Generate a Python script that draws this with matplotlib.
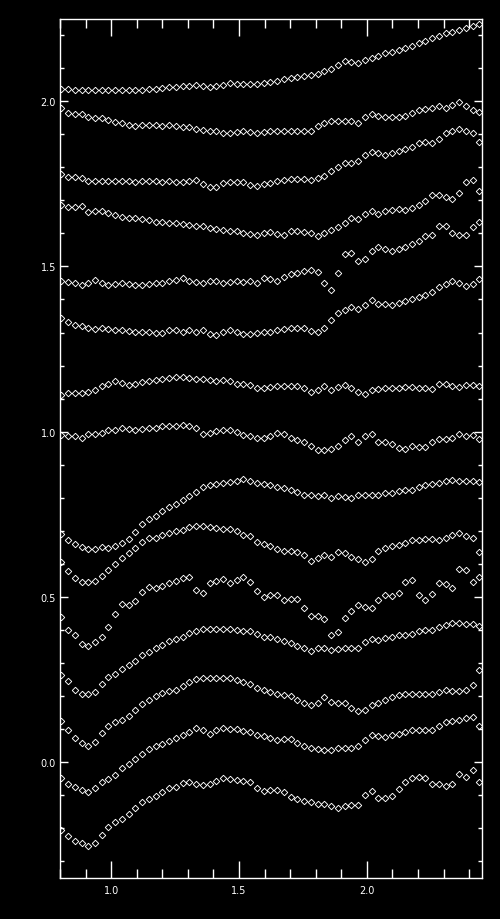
import matplotlib
matplotlib.use("Agg")
import matplotlib.pyplot as plt
import numpy as np
from matplotlib.ticker import MultipleLocator

# common wavelength grid (63 samples, evenly spaced)
x = np.linspace(0.805, 2.44, 63)

# offset spectra, top to bottom
s01 = [2.038, 2.036, 2.035, 2.034, 2.034, 2.034, 2.035, 2.035, 2.034, 2.034, 2.034, 2.034, 2.034, 2.036, 2.038,
       2.040, 2.042, 2.044, 2.045, 2.047, 2.048, 2.046, 2.044, 2.047, 2.050, 2.054, 2.052, 2.052,
       2.053, 2.052, 2.055, 2.058, 2.062, 2.066, 2.070, 2.074, 2.076, 2.078, 2.081, 2.090,
       2.098, 2.110, 2.120, 2.118, 2.115, 2.125, 2.132, 2.138, 2.145, 2.150,
       2.155, 2.160, 2.168, 2.175, 2.182, 2.190, 2.198, 2.205, 2.210, 2.215, 2.220, 2.226, 2.232]
s02 = [1.978, 1.964, 1.961, 1.962, 1.952, 1.950, 1.948, 1.943, 1.938, 1.934, 1.929, 1.925, 1.927, 1.929, 1.927,
       1.925, 1.929, 1.925, 1.923, 1.923, 1.917, 1.913, 1.911, 1.909, 1.905, 1.903, 1.907, 1.909,
       1.907, 1.903, 1.907, 1.911, 1.909, 1.911, 1.911, 1.911, 1.911, 1.909, 1.925, 1.933,
       1.939, 1.941, 1.939, 1.941, 1.933, 1.953, 1.961, 1.955, 1.953, 1.953,
       1.951, 1.955, 1.964, 1.974, 1.976, 1.978, 1.984, 1.980, 1.988, 1.996, 1.984, 1.974, 1.966]
s03 = [1.780, 1.772, 1.770, 1.768, 1.758, 1.758, 1.758, 1.758, 1.758, 1.758, 1.757, 1.756, 1.757, 1.757, 1.757,
       1.756, 1.758, 1.756, 1.754, 1.758, 1.760, 1.749, 1.739, 1.741, 1.751, 1.755, 1.754, 1.754,
       1.747, 1.743, 1.749, 1.753, 1.757, 1.761, 1.763, 1.765, 1.763, 1.761, 1.767, 1.775,
       1.788, 1.802, 1.812, 1.814, 1.818, 1.838, 1.846, 1.842, 1.838, 1.842,
       1.850, 1.854, 1.861, 1.873, 1.877, 1.873, 1.885, 1.903, 1.911, 1.915, 1.911, 1.905, 1.877]
s04 = [1.687, 1.681, 1.681, 1.683, 1.665, 1.667, 1.667, 1.661, 1.655, 1.651, 1.647, 1.647, 1.643, 1.639, 1.635,
       1.633, 1.631, 1.631, 1.629, 1.625, 1.623, 1.621, 1.617, 1.612, 1.610, 1.608, 1.606, 1.600,
       1.598, 1.594, 1.602, 1.604, 1.598, 1.596, 1.608, 1.608, 1.604, 1.600, 1.592, 1.602,
       1.610, 1.620, 1.630, 1.646, 1.644, 1.658, 1.667, 1.660, 1.667, 1.671,
       1.673, 1.671, 1.677, 1.685, 1.697, 1.715, 1.717, 1.711, 1.705, 1.721, 1.755, 1.762, 1.727]
s05 = [1.455, 1.453, 1.449, 1.444, 1.449, 1.459, 1.449, 1.443, 1.447, 1.449, 1.447, 1.443, 1.443, 1.447, 1.449,
       1.451, 1.455, 1.459, 1.465, 1.455, 1.453, 1.451, 1.455, 1.455, 1.451, 1.453, 1.455, 1.453,
       1.455, 1.451, 1.465, 1.463, 1.457, 1.467, 1.477, 1.481, 1.485, 1.489, 1.483, 1.449,
       1.428, 1.481, 1.537, 1.541, 1.515, 1.521, 1.547, 1.558, 1.554, 1.547,
       1.554, 1.560, 1.568, 1.578, 1.592, 1.594, 1.622, 1.622, 1.600, 1.594, 1.594, 1.620, 1.635]
s06 = [1.345, 1.333, 1.323, 1.319, 1.313, 1.311, 1.315, 1.311, 1.309, 1.309, 1.305, 1.303, 1.303, 1.303, 1.299,
       1.299, 1.309, 1.307, 1.303, 1.307, 1.303, 1.307, 1.295, 1.293, 1.303, 1.307, 1.303, 1.295,
       1.297, 1.299, 1.301, 1.301, 1.309, 1.311, 1.313, 1.315, 1.313, 1.305, 1.303, 1.315,
       1.339, 1.359, 1.367, 1.376, 1.370, 1.384, 1.398, 1.386, 1.386, 1.384,
       1.388, 1.396, 1.400, 1.406, 1.414, 1.424, 1.438, 1.448, 1.455, 1.450, 1.440, 1.448, 1.462]
s07 = [1.111, 1.117, 1.117, 1.117, 1.121, 1.127, 1.137, 1.145, 1.152, 1.147, 1.141, 1.143, 1.150, 1.154, 1.156,
       1.160, 1.162, 1.164, 1.166, 1.162, 1.158, 1.160, 1.156, 1.154, 1.156, 1.152, 1.145, 1.143,
       1.141, 1.131, 1.131, 1.135, 1.137, 1.137, 1.137, 1.137, 1.133, 1.121, 1.125, 1.137,
       1.127, 1.135, 1.141, 1.131, 1.121, 1.115, 1.125, 1.129, 1.131, 1.133,
       1.133, 1.135, 1.135, 1.133, 1.131, 1.129, 1.143, 1.145, 1.137, 1.135, 1.141, 1.141, 1.137]
s08 = [0.990, 0.986, 0.988, 0.982, 0.992, 0.992, 0.996, 1.004, 1.004, 1.010, 1.008, 1.006, 1.008, 1.010, 1.012,
       1.016, 1.016, 1.018, 1.020, 1.016, 1.012, 0.994, 0.996, 1.002, 1.006, 1.004, 0.998, 0.990,
       0.988, 0.982, 0.982, 0.988, 0.996, 0.992, 0.982, 0.974, 0.970, 0.958, 0.945, 0.945,
       0.949, 0.956, 0.974, 0.986, 0.970, 0.986, 0.994, 0.970, 0.968, 0.962,
       0.951, 0.949, 0.958, 0.954, 0.954, 0.970, 0.978, 0.978, 0.980, 0.992, 0.986, 0.990, 0.978]
s09 = [0.691, 0.673, 0.660, 0.652, 0.646, 0.646, 0.650, 0.648, 0.654, 0.662, 0.675, 0.697, 0.721, 0.735, 0.745,
       0.760, 0.772, 0.780, 0.794, 0.806, 0.818, 0.832, 0.838, 0.842, 0.846, 0.848, 0.852, 0.856,
       0.852, 0.846, 0.842, 0.840, 0.834, 0.830, 0.824, 0.818, 0.808, 0.808, 0.806, 0.808,
       0.798, 0.804, 0.802, 0.800, 0.808, 0.808, 0.808, 0.810, 0.814, 0.814,
       0.820, 0.824, 0.824, 0.832, 0.838, 0.842, 0.846, 0.852, 0.854, 0.852, 0.850, 0.852, 0.848]
s10 = [0.606, 0.578, 0.556, 0.545, 0.545, 0.547, 0.563, 0.582, 0.600, 0.618, 0.632, 0.648, 0.667, 0.677, 0.679,
       0.689, 0.695, 0.699, 0.703, 0.711, 0.715, 0.715, 0.713, 0.709, 0.707, 0.707, 0.699, 0.689,
       0.683, 0.667, 0.660, 0.654, 0.646, 0.640, 0.640, 0.636, 0.626, 0.610, 0.618, 0.626,
       0.620, 0.636, 0.632, 0.620, 0.614, 0.606, 0.616, 0.640, 0.648, 0.654,
       0.658, 0.662, 0.671, 0.673, 0.675, 0.675, 0.673, 0.677, 0.689, 0.695, 0.685, 0.677, 0.636]
s11 = [0.438, 0.400, 0.386, 0.357, 0.351, 0.363, 0.378, 0.408, 0.448, 0.479, 0.477, 0.487, 0.515, 0.529, 0.527,
       0.533, 0.541, 0.549, 0.557, 0.559, 0.521, 0.513, 0.543, 0.547, 0.555, 0.543, 0.551, 0.561,
       0.545, 0.517, 0.501, 0.507, 0.507, 0.491, 0.495, 0.495, 0.467, 0.441, 0.441, 0.432,
       0.386, 0.394, 0.437, 0.457, 0.475, 0.469, 0.467, 0.491, 0.507, 0.503,
       0.513, 0.545, 0.551, 0.505, 0.491, 0.509, 0.543, 0.539, 0.527, 0.586, 0.582, 0.545, 0.560]
s12 = [0.265, 0.245, 0.218, 0.208, 0.206, 0.214, 0.236, 0.257, 0.267, 0.281, 0.293, 0.307, 0.323, 0.335, 0.345,
       0.355, 0.367, 0.373, 0.380, 0.390, 0.398, 0.404, 0.404, 0.402, 0.404, 0.402, 0.400, 0.396,
       0.396, 0.388, 0.380, 0.378, 0.373, 0.367, 0.361, 0.351, 0.345, 0.337, 0.347, 0.345,
       0.339, 0.343, 0.345, 0.345, 0.345, 0.363, 0.373, 0.371, 0.375, 0.380,
       0.384, 0.386, 0.388, 0.398, 0.400, 0.400, 0.410, 0.416, 0.420, 0.420, 0.418, 0.418, 0.412]
s13 = [0.125, 0.099, 0.073, 0.058, 0.050, 0.062, 0.089, 0.111, 0.121, 0.127, 0.139, 0.159, 0.176, 0.188, 0.200,
       0.210, 0.216, 0.220, 0.232, 0.242, 0.252, 0.256, 0.254, 0.256, 0.256, 0.256, 0.248, 0.244,
       0.236, 0.226, 0.218, 0.214, 0.206, 0.202, 0.200, 0.188, 0.178, 0.172, 0.178, 0.196,
       0.182, 0.180, 0.180, 0.164, 0.155, 0.157, 0.172, 0.178, 0.188, 0.198,
       0.204, 0.208, 0.208, 0.208, 0.206, 0.206, 0.214, 0.220, 0.216, 0.216, 0.218, 0.235, 0.280]
s14 = [-0.048, -0.065, -0.075, -0.085, -0.091, -0.079, -0.061, -0.051, -0.040, -0.018, -0.006, 0.010, 0.026, 0.040, 0.048,
       0.056, 0.065, 0.073, 0.081, 0.091, 0.103, 0.097, 0.087, 0.099, 0.103, 0.101, 0.101, 0.095,
       0.091, 0.083, 0.079, 0.073, 0.067, 0.069, 0.071, 0.058, 0.048, 0.044, 0.040, 0.038,
       0.036, 0.044, 0.044, 0.044, 0.048, 0.067, 0.081, 0.079, 0.077, 0.081,
       0.087, 0.093, 0.097, 0.099, 0.099, 0.097, 0.109, 0.121, 0.125, 0.129, 0.135, 0.137, 0.111]
s15 = [-0.206, -0.224, -0.238, -0.245, -0.253, -0.245, -0.220, -0.196, -0.182, -0.172, -0.158, -0.139, -0.121, -0.111, -0.101,
       -0.089, -0.079, -0.075, -0.063, -0.061, -0.067, -0.069, -0.065, -0.057, -0.047, -0.051, -0.053, -0.057,
       -0.061, -0.079, -0.087, -0.085, -0.083, -0.091, -0.105, -0.111, -0.117, -0.119, -0.125, -0.127,
       -0.131, -0.137, -0.131, -0.129, -0.129, -0.099, -0.087, -0.109, -0.109, -0.101,
       -0.081, -0.061, -0.049, -0.045, -0.049, -0.065, -0.067, -0.071, -0.067, -0.036, -0.045, -0.022, -0.061]

spectra = [s01, s02, s03, s04, s05, s06, s07, s08, s09, s10, s11, s12, s13, s14, s15]

fig = plt.figure(figsize=(5.0, 9.2), dpi=100, facecolor="black")
ax = fig.add_axes([0.12, 0.0446, 0.844, 0.9342], facecolor="black")

for s in spectra:
    ax.plot(x, s, linestyle="none", marker="D", markersize=3.3,
            markerfacecolor="none", markeredgecolor="white", markeredgewidth=0.65)

ax.set_xlim(0.8, 2.45)
ax.set_ylim(-0.35, 2.25)

ax.xaxis.set_major_locator(MultipleLocator(0.5))
ax.xaxis.set_minor_locator(MultipleLocator(0.1))
ax.yaxis.set_major_locator(MultipleLocator(0.5))
ax.yaxis.set_minor_locator(MultipleLocator(0.1))

for sp in ax.spines.values():
    sp.set_color("white")
    sp.set_linewidth(1.0)

ax.tick_params(axis="both", which="both", direction="in", colors="white",
               top=True, right=True, width=1.0, labelsize=7)
ax.tick_params(axis="x", which="major", length=12, pad=5)
ax.tick_params(axis="x", which="minor", length=6.5)
ax.tick_params(axis="y", which="major", length=6, pad=3)
ax.tick_params(axis="y", which="minor", length=3)

fig.savefig("out.png", dpi=100, facecolor="black")
